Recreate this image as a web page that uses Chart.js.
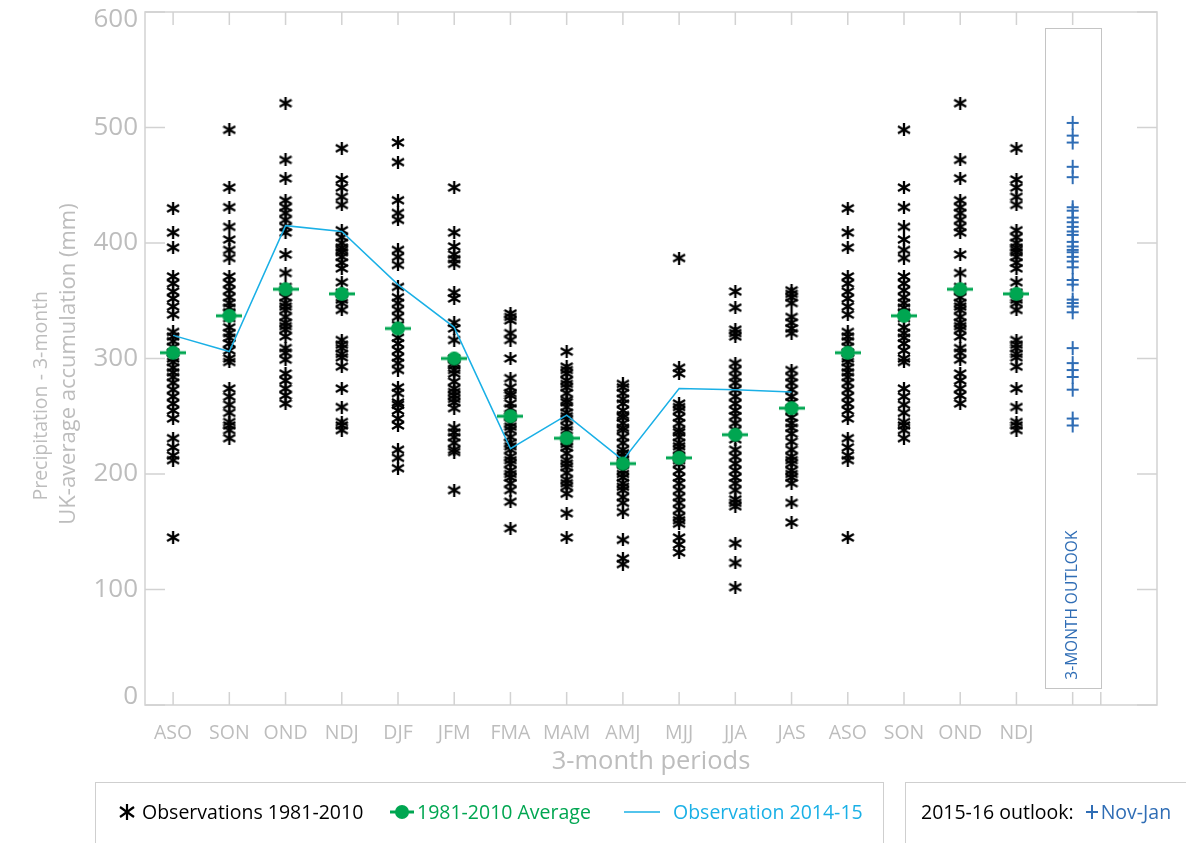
<!DOCTYPE html>
<html><head><meta charset="utf-8">
<script src="https://cdn.jsdelivr.net/npm/chart.js@4/dist/chart.umd.min.js"></script>
<style>
html,body{margin:0;padding:0;background:#fff;}
#wrap{position:relative;width:1186px;height:843px;overflow:hidden;font-family:"Open Sans",sans-serif;}
#c{position:absolute;left:0;top:0;}
.yt{position:absolute;white-space:nowrap;color:#bdbdbd;line-height:1;transform-origin:center center;}
.box{position:absolute;border:1px solid #cfcfcf;box-sizing:border-box;}
.leg{position:absolute;top:800px;font-size:19.5px;line-height:24px;white-space:nowrap;display:flex;align-items:center;}
</style></head>
<body><div id="wrap">
<canvas id="c" width="1186" height="843"></canvas>
<div class="yt" id="yt1" style="font-size:19.5px">Precipitation - 3-month</div>
<div class="yt" id="yt2" style="font-size:22px">UK-average accumulation (mm)</div>
<div class="box" style="left:95px;top:782px;width:789px;height:80px;"></div>
<div class="box" style="left:905px;top:782px;width:300px;height:80px;"></div>
<div class="leg" style="left:117px;color:#000;"><svg width="20" height="20" viewBox="0 0 20 20"><g stroke="#000" stroke-width="2.2"><line x1="10" y1="2" x2="10" y2="18"/><line x1="3" y1="5" x2="17" y2="15"/><line x1="3" y1="15" x2="17" y2="5"/></g></svg><span style="margin-left:5px">Observations 1981-2010</span></div>
<div class="leg" style="left:389px;color:#00a651;"><svg width="26" height="20" viewBox="0 0 26 20"><line x1="1" y1="10" x2="25" y2="10" stroke="#00a651" stroke-width="3"/><circle cx="13" cy="10" r="7" fill="#00a651"/></svg><span style="margin-left:2px">1981-2010 Average</span></div>
<div class="leg" style="left:624px;color:#1ab0e6;"><svg width="38" height="20" viewBox="0 0 38 20"><line x1="0" y1="10" x2="36" y2="10" stroke="#1ab0e6" stroke-width="1.5"/></svg><span style="margin-left:11px">Observation 2014-15</span></div>
<div class="leg" style="left:921px;color:#000;">2015-16 outlook:<svg style="margin-left:11px" width="14" height="20" viewBox="0 0 14 20"><g stroke="#2f6db5" stroke-width="2"><line x1="1" y1="10" x2="13" y2="10"/><line x1="7" y1="3" x2="7" y2="17"/></g></svg><span style="color:#2f6db5;margin-left:2px">Nov-Jan</span></div>
</div>
<script>
// ---------------- DATA ----------------
const periods = ['ASO','SON','OND','NDJ','DJF','JFM','FMA','MAM','AMJ','MJJ','JJA','JAS'];
const xTickLabels = ['ASO','SON','OND','NDJ','DJF','JFM','FMA','MAM','AMJ','MJJ','JJA','JAS','ASO','SON','OND','NDJ'];
const yTickValues = [0,100,200,300,400,500,600];

const obs_ASO = [430,409,396,371,365,358,352,345,338,323,319,315,310,305,300,297,292,288,284,279,273,267,261,255,248,231,223,216,212,145];
const obs_SON = [498,448,431,414,403,394,387,371,365,359,353,348,344,340,335,327,322,318,313,307,300,297,274,267,260,253,245,242,238,231];
const obs_OND = [521,472,456,437,431,426,420,414,409,390,374,362,359,353,348,345,342,336,331,328,325,319,309,305,299,287,281,274,268,261];
const obs_NDJ = [482,455,448,440,433,411,405,400,396,394,392,388,383,378,366,357,351,348,342,316,312,309,304,301,293,274,258,245,242,238];
const obs_DJF = [487,470,437,426,420,394,388,381,362,353,348,342,336,329,318,313,307,301,296,290,275,270,262,260,255,248,242,221,214,205];
const obs_JFM = [448,409,397,390,386,382,357,352,331,326,316,300,296,294,290,287,280,274,271,268,265,262,257,240,236,232,227,221,219,186];
const obs_FMA = [339,336,333,322,316,300,283,275,270,268,261,257,250,244,241,238,232,227,224,221,215,212,209,203,200,197,192,186,176,153];
const obs_MAM = [306,293,290,287,281,278,275,270,264,262,258,253,250,247,241,238,229,226,223,218,212,209,206,201,195,192,189,183,166,145];
const obs_AMJ = [278,275,270,265,261,255,251,249,244,240,238,232,227,221,218,215,212,209,203,200,197,192,189,186,180,175,167,143,127,122];
const obs_MJJ = [387,292,287,261,258,255,249,244,238,236,232,227,224,221,215,212,209,203,197,192,186,180,175,169,163,160,157,145,139,132];
const obs_JJA = [358,344,325,322,319,296,290,284,279,273,267,261,255,250,244,238,230,221,215,209,203,197,192,186,178,175,172,140,123,102];
const obs_JAS = [359,356,353,348,336,331,326,322,290,284,279,273,267,262,255,249,244,240,235,228,221,215,212,209,203,200,197,192,175,158];

const average_1981_2010 = [305,337,360,356,326,300,250,231,209,214,234,257,305,337,360,356];
const observation_2014_15 = [320,306,415,410,364,327,222,251,212,274,273,271];
const outlook_NovJan = [504,493,487,466,457,431,428,422,418,414,410,407,401,397,394,392,388,384,379,368,364,351,348,345,340,309,296,290,284,273,248,242];
const outlookIndex = 16;

// --------------- build -----------------
const obsByPeriod = [obs_ASO,obs_SON,obs_OND,obs_NDJ,obs_DJF,obs_JFM,obs_FMA,obs_MAM,obs_AMJ,obs_MJJ,obs_JJA,obs_JAS];
const obsPoints = [];
xTickLabels.forEach((lab,i)=>{ const arr = obsByPeriod[periods.indexOf(lab)]; arr.forEach(v=>obsPoints.push({x:i,y:v})); });
const avgPoints = average_1981_2010.map((v,i)=>({x:i,y:v}));
const linePoints = observation_2014_15.map((v,i)=>({x:i,y:v}));
const outlookPoints = outlook_NovJan.map(v=>({x:outlookIndex,y:v}));

function mk(w,h,draw){const c=document.createElement('canvas');c.width=w;c.height=h;draw(c.getContext('2d'));return c;}
const starImg = mk(14,13,g=>{g.strokeStyle='#000';g.lineWidth=2.3;g.beginPath();g.moveTo(7,0);g.lineTo(7,13);g.moveTo(1,3);g.lineTo(13,10);g.moveTo(1,10);g.lineTo(13,3);g.stroke();});
const avgImg = mk(26,16,g=>{g.strokeStyle='#00a651';g.lineWidth=3;g.beginPath();g.moveTo(0,8);g.lineTo(26,8);g.stroke();g.fillStyle='#00a651';g.beginPath();g.arc(13,8,7,0,Math.PI*2);g.fill();});
const plusImg = mk(14,16,g=>{g.strokeStyle='#2f6db5';g.lineWidth=2;g.beginPath();g.moveTo(1,8);g.lineTo(13,8);g.moveTo(7,1);g.lineTo(7,15);g.stroke();});

const framePlugin = {
  id:'frame',
  beforeDatasetsDraw(chart){
    const {ctx, chartArea:{left,right,top,bottom}, scales:{x,y}} = chart;
    ctx.save();
    ctx.strokeStyle='#d2d2d2'; ctx.lineWidth=1.5;
    ctx.strokeRect(left,top,right-left,bottom-top);
    ctx.beginPath();
    yTickValues.forEach(v=>{const py=y.getPixelForValue(v);ctx.moveTo(left,py);ctx.lineTo(left+20,py);ctx.moveTo(right,py);ctx.lineTo(right-20,py);});
    for(let i=0;i<=outlookIndex;i++){const px=x.getPixelForValue(i);ctx.moveTo(px,top);ctx.lineTo(px,top+13);ctx.moveTo(px,bottom);ctx.lineTo(px,bottom-13);}
    const pe=x.getPixelForValue(outlookIndex+0.5);ctx.moveTo(pe,bottom);ctx.lineTo(pe,bottom-13);
    ctx.stroke();
    // y tick labels (kept inside the frame's height like the original)
    ctx.fillStyle='#bdbdbd'; ctx.font='26px "Open Sans"'; ctx.textAlign='right'; ctx.textBaseline='middle';
    yTickValues.forEach(v=>{const py=y.getPixelForValue(v);const cy=Math.min(Math.max(py,top+8),bottom-8);ctx.fillText(String(v),left-7,cy);});
    // outlook box
    const bx0=x.getPixelForValue(outlookIndex-0.5), bx1=x.getPixelForValue(outlookIndex+0.5);
    const by0=y.getPixelForValue(586), by1=y.getPixelForValue(15);
    ctx.strokeStyle='#c4c4c4'; ctx.lineWidth=1;
    ctx.strokeRect(Math.round(bx0)+0.5,Math.round(by0)+0.5,Math.round(bx1-bx0),Math.round(by1-by0));
    ctx.translate((bx0+bx1)/2, by1-8);
    ctx.rotate(-Math.PI/2);
    ctx.fillStyle='#2f6db5'; ctx.font='15.5px "Open Sans"'; ctx.textAlign='left'; ctx.textBaseline='middle';
    ctx.fillText('3-MONTH OUTLOOK',0,0);
    ctx.restore();
  }
};

new Chart(document.getElementById('c'),{
  type:'scatter',
  data:{datasets:[
    {label:'Observations 1981-2010',data:obsPoints,pointStyle:starImg,order:4},
    {label:'Observation 2014-15',data:linePoints,showLine:true,borderColor:'#1ab0e6',borderWidth:1.5,pointRadius:0,order:3},
    {label:'1981-2010 Average',data:avgPoints,pointStyle:avgImg,order:2},
    {label:'Nov-Jan',data:outlookPoints,pointStyle:plusImg,order:1}
  ]},
  options:{
    responsive:false,animation:false,
    layout:{padding:{left:0,right:29,top:12,bottom:63}},
    plugins:{legend:{display:false},tooltip:{enabled:false}},
    scales:{
      x:{type:'linear',min:-0.5,max:17.5,
        afterBuildTicks(s){s.ticks=xTickLabels.map((l,i)=>({value:i}));},
        afterFit(s){s.height=75;s.paddingLeft=0;s.paddingRight=0;},
        grid:{display:false,drawTicks:false},border:{display:false},
        ticks:{autoSkip:false,maxRotation:0,padding:17,color:'#bdbdbd',font:{family:'"Open Sans"',size:19.5},callback:(v)=>xTickLabels[v]??''},
        title:{display:true,text:'3-month periods',color:'#bdbdbd',font:{family:'"Open Sans"',size:25.5},padding:{top:0,bottom:3}}
      },
      y:{min:0,max:600,
        afterBuildTicks(s){s.ticks=yTickValues.map(v=>({value:v}));},
        afterFit(s){s.width=145;s.paddingTop=0;s.paddingBottom=0;},
        grid:{display:false,drawTicks:false},border:{display:false},
        ticks:{display:false}
      }
    }
  },
  plugins:[framePlugin]
});

function placeRot(id,cx,cy){const el=document.getElementById(id);const w=el.offsetWidth,h=el.offsetHeight;el.style.left=(cx-w/2)+'px';el.style.top=(cy-h/2)+'px';el.style.transform='rotate(-90deg)';}
placeRot('yt1',40,396);
placeRot('yt2',65,364);
</script>
</body></html>
